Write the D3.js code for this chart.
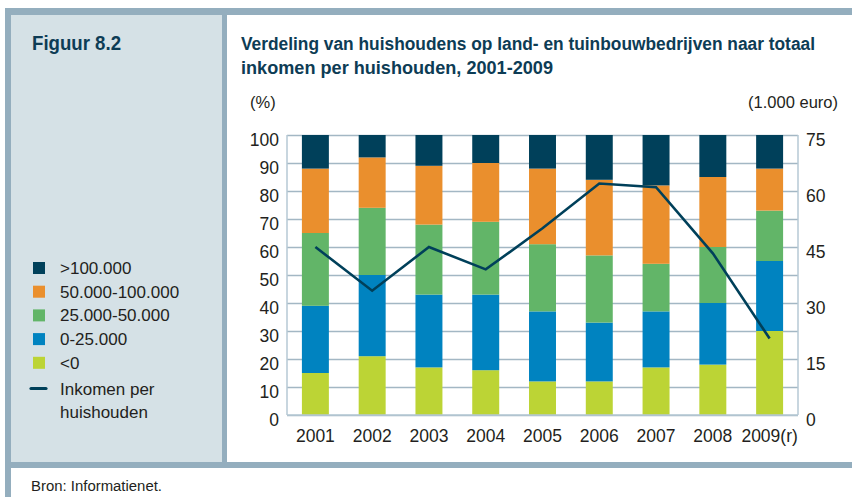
<!DOCTYPE html>
<html>
<head>
<meta charset="utf-8">
<script src="https://cdn.jsdelivr.net/npm/d3@7"></script>
<style>
  html, body { margin: 0; padding: 0; background: #fff; }
  svg text { font-family: "Liberation Sans", Arial, sans-serif; }
</style>
</head>
<body>
<svg id="chart" width="852" height="497"></svg>
<script>
// ---- data ----
const years = ["2001", "2002", "2003", "2004", "2005", "2006", "2007", "2008", "2009(r)"];
const seriesNames = ["<0", "0-25.000", "25.000-50.000", "50.000-100.000", ">100.000"];
const lt0      = [15, 21, 17, 16, 12, 12, 17, 18, 30];
const r0_25    = [24, 29, 26, 27, 25, 21, 20, 22, 25];
const r25_50   = [26, 24, 25, 26, 24, 24, 17, 20, 18];
const r50_100  = [23, 18, 21, 21, 27, 27, 28, 25, 15];
const gt100    = [12,  8, 11, 10, 12, 16, 18, 15, 12];
const income   = [45, 33.3, 45, 39, 50, 62, 61, 43.3, 20.5];
const leftTicks  = [0, 10, 20, 30, 40, 50, 60, 70, 80, 90, 100];
const rightTicks = [0, 15, 30, 45, 60, 75];

const colors = ["#bcd435", "#0083c0", "#62b568", "#ea8f2d", "#00405a"];
const lineColor = "#00405a";

const svg = d3.select("#chart");

// ---- frame ----
const band = "#94aebe";
svg.append("rect").attr("x", 5).attr("y", 8).attr("width", 847).attr("height", 7).attr("fill", band);
svg.append("rect").attr("x", 5).attr("y", 8).attr("width", 6).attr("height", 489).attr("fill", band);
svg.append("rect").attr("x", 11).attr("y", 15).attr("width", 211).attr("height", 447).attr("fill", "#d5e1e6");
svg.append("rect").attr("x", 222).attr("y", 15).attr("width", 5).attr("height", 447).attr("fill", band);
svg.append("rect").attr("x", 5).attr("y", 462).attr("width", 847).attr("height", 6).attr("fill", band);

svg.append("text").attr("x", 32).attr("y", 50).attr("font-size", 20).attr("font-weight", "bold")
  .attr("fill", "#0d3c55").attr("textLength", 89).attr("lengthAdjust", "spacingAndGlyphs").text("Figuur 8.2");

svg.append("text").attr("x", 241).attr("y", 49.5).attr("font-size", 18).attr("font-weight", "bold")
  .attr("fill", "#0d3c55").attr("textLength", 574).attr("lengthAdjust", "spacingAndGlyphs")
  .text("Verdeling van huishoudens op land- en tuinbouwbedrijven naar totaal");
svg.append("text").attr("x", 241).attr("y", 73.5).attr("font-size", 18).attr("font-weight", "bold")
  .attr("fill", "#0d3c55").attr("textLength", 312).attr("lengthAdjust", "spacingAndGlyphs")
  .text("inkomen per huishouden, 2001-2009");

svg.append("text").attr("x", 250).attr("y", 108).attr("font-size", 16.5).attr("fill", "#231f20").text("(%)");
svg.append("text").attr("x", 838).attr("y", 108).attr("font-size", 16.5).attr("fill", "#231f20")
  .attr("text-anchor", "end").text("(1.000 euro)");

svg.append("text").attr("x", 31).attr("y", 490.5).attr("font-size", 15.5).attr("fill", "#231f20")
  .attr("textLength", 131).attr("lengthAdjust", "spacingAndGlyphs").text("Bron: Informatienet.");

// ---- scales ----
const plot = { left: 287, right: 798, top: 135, bottom: 415 };
const x = d3.scaleBand().domain(years).range([plot.left, plot.right]).paddingInner(0.525).paddingOuter(0.2625);
const y = d3.scaleLinear().domain([0, 100]).range([plot.bottom, plot.top]);
const y2 = d3.scaleLinear().domain([0, 75]).range([plot.bottom, plot.top]);

// gridlines
const grid = svg.append("g").attr("transform", `translate(${plot.left},0)`)
  .call(d3.axisLeft(y).tickValues(leftTicks).tickSize(-(plot.right - plot.left)).tickFormat(""));
grid.select(".domain").remove();
grid.selectAll(".tick line").attr("stroke", "#a3b7c4").attr("stroke-width", 1.3);

// bars
const table = years.map((yr, i) => ({ year: yr, s0: lt0[i], s1: r0_25[i], s2: r25_50[i], s3: r50_100[i], s4: gt100[i] }));
const stack = d3.stack().keys(["s0", "s1", "s2", "s3", "s4"])(table);
svg.append("g").selectAll("g").data(stack).join("g")
  .attr("fill", (d, i) => colors[i])
  .selectAll("rect").data(d => d).join("rect")
  .attr("x", d => x(d.data.year))
  .attr("width", x.bandwidth())
  .attr("y", d => y(d[1]))
  .attr("height", d => y(d[0]) - y(d[1]));

// axis lines
svg.append("line").attr("x1", plot.left).attr("x2", plot.left).attr("y1", plot.top).attr("y2", plot.bottom)
  .attr("stroke", "#b6c9d5").attr("stroke-width", 1.5);
svg.append("line").attr("x1", plot.right).attr("x2", plot.right).attr("y1", plot.top).attr("y2", plot.bottom)
  .attr("stroke", "#b6c9d5").attr("stroke-width", 1.5);
svg.append("line").attr("x1", plot.left).attr("x2", plot.right).attr("y1", plot.bottom).attr("y2", plot.bottom)
  .attr("stroke", "#b6c9d5").attr("stroke-width", 1.5);

// left axis labels
const la = svg.append("g").attr("transform", `translate(${plot.left - 8},0)`)
  .call(d3.axisLeft(y).tickValues(leftTicks).tickSize(0).tickPadding(0));
la.select(".domain").remove();
la.selectAll("text").attr("font-size", 17.5).attr("fill", "#231f20").attr("dy", "0.6em")
  .attr("font-family", "Liberation Sans, Arial, sans-serif");

// right axis labels
const ra = svg.append("g").attr("transform", `translate(${plot.right + 8},0)`)
  .call(d3.axisRight(y2).tickValues(rightTicks).tickSize(0).tickPadding(0));
ra.select(".domain").remove();
ra.selectAll("text").attr("font-size", 17.5).attr("fill", "#231f20").attr("dy", "0.6em")
  .attr("font-family", "Liberation Sans, Arial, sans-serif");

// x axis labels
const xa = svg.append("g").attr("transform", `translate(0,${plot.bottom})`)
  .call(d3.axisBottom(x).tickSize(0).tickPadding(0));
xa.select(".domain").remove();
xa.selectAll("text").attr("font-size", 17.5).attr("fill", "#231f20").attr("dy", "1.55em")
  .attr("font-family", "Liberation Sans, Arial, sans-serif");

// income line
const line = d3.line().x((d, i) => x(years[i]) + x.bandwidth() / 2).y(d => y2(d));
svg.append("path").datum(income).attr("d", line).attr("fill", "none")
  .attr("stroke", lineColor).attr("stroke-width", 2.6).attr("stroke-linejoin", "miter");

// legend
const legendItems = [4, 3, 2, 1, 0];
const lg = svg.append("g");
legendItems.forEach((si, k) => {
  const cy = 268 + k * 23.7;
  lg.append("rect").attr("x", 33).attr("y", cy - 6).attr("width", 12).attr("height", 12).attr("fill", colors[si]);
  lg.append("text").attr("x", 60).attr("y", cy + 6).attr("font-size", 17).attr("fill", "#231f20").text(seriesNames[si]);
});
lg.append("line").attr("x1", 31).attr("x2", 46).attr("y1", 388.5).attr("y2", 388.5)
  .attr("stroke", lineColor).attr("stroke-width", 3.2).attr("stroke-linecap", "round");
lg.append("text").attr("x", 60).attr("y", 395).attr("font-size", 17).attr("fill", "#231f20").text("Inkomen per");
lg.append("text").attr("x", 60).attr("y", 418).attr("font-size", 17).attr("fill", "#231f20").text("huishouden");
</script>
</body>
</html>
